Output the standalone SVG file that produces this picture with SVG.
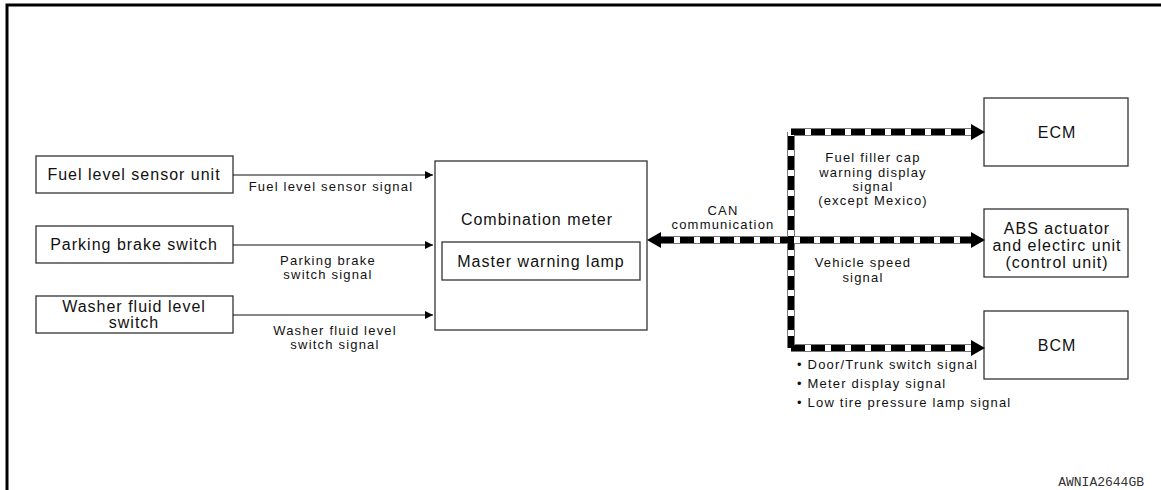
<svg xmlns="http://www.w3.org/2000/svg" width="1161" height="490" viewBox="0 0 1161 490">
<style>
.box{fill:#fff;stroke:#333;stroke-width:1.3}
.t{font-family:"Liberation Sans",Arial,sans-serif;font-size:16px;letter-spacing:1px;fill:#111;text-anchor:middle}
.s{font-family:"Liberation Sans",Arial,sans-serif;font-size:13px;letter-spacing:1.2px;fill:#111;text-anchor:middle}
.sl{font-family:"Liberation Sans",Arial,sans-serif;font-size:13px;letter-spacing:1.2px;fill:#111}
.w{stroke:#111;stroke-width:1.2;fill:none}
.busO{stroke:#777;stroke-width:8;fill:none}
.busW{stroke:#fff;stroke-width:6;fill:none}
.busB{stroke:#000;stroke-width:6;fill:none;stroke-dasharray:14 6}
</style>
<defs>
<marker id="ah" viewBox="0 0 10 10" refX="10" refY="5" markerWidth="10" markerHeight="8" markerUnits="userSpaceOnUse" orient="auto">
<path d="M0,0 L10,5 L0,10 Z" fill="#000"/>
</marker>
</defs>
<rect width="1161" height="490" fill="#fff"/>
<g id="frame">
<path d="M7,490 V5 H1161" fill="none" stroke="#000" stroke-width="3"/>
</g>
<g id="fuel-sensor">
<rect class="box" x="36" y="156" width="197" height="37"/>
<text class="t" x="134" y="180">Fuel level sensor unit</text>
</g>
<g id="parking-brake">
<rect class="box" x="36" y="226" width="197" height="37"/>
<text class="t" x="134" y="250">Parking brake switch</text>
</g>
<g id="washer">
<rect class="box" x="36" y="296" width="197" height="37"/>
<text class="t" x="134" y="312">Washer fluid level</text>
<text class="t" x="134" y="328">switch</text>
</g>
<g id="combination-meter">
<rect class="box" x="435" y="161" width="212" height="169"/>
<text class="t" x="537" y="225">Combination meter</text>
<rect class="box" x="442" y="242" width="198" height="38"/>
<text class="t" x="541" y="267">Master warning lamp</text>
</g>
<g id="ecm">
<rect class="box" x="984" y="98" width="144" height="68"/>
<text class="t" x="1057" y="138">ECM</text>
</g>
<g id="abs">
<rect class="box" x="984" y="209" width="144" height="68"/>
<text class="t" x="1057" y="234">ABS actuator</text>
<text class="t" x="1057" y="251">and electirc unit</text>
<text class="t" x="1057" y="268">(control unit)</text>
</g>
<g id="bcm">
<rect class="box" x="984" y="311" width="144" height="68"/>
<text class="t" x="1057" y="351">BCM</text>
</g>
<g id="connectors">
<line class="w" x1="233" y1="175" x2="433" y2="175" marker-end="url(#ah)"/>
<line class="w" x1="233" y1="245" x2="433" y2="245" marker-end="url(#ah)"/>
<line class="w" x1="233" y1="315" x2="433" y2="315" marker-end="url(#ah)"/>
<path class="busO" d="M660,240 H973 M791,132 V348 M791,132 H973 M791,348 H973"/>
<path class="busW" d="M660,240 H973 M791,132 V348 M791,132 H973 M791,348 H973"/>
<path class="busB" d="M791,132 H973"/>
<path class="busB" d="M791,136 V348"/>
<path class="busB" d="M791,348 H973"/>
<path class="busB" d="M660,240 H973"/>
<path d="M647,240 L661,232 L661,248 Z" fill="#000"/>
<path d="M985,132 L971,124 L971,140 Z" fill="#000"/>
<path d="M985,240 L971,232 L971,248 Z" fill="#000"/>
<path d="M985,348 L971,340 L971,356 Z" fill="#000"/>
</g>
<g id="labels">
<text class="s" x="331" y="191">Fuel level sensor signal</text>
<text class="s" x="328" y="265">Parking brake</text>
<text class="s" x="328" y="279">switch signal</text>
<text class="s" x="335" y="335">Washer fluid level</text>
<text class="s" x="335" y="349">switch signal</text>
<text class="s" x="723" y="215">CAN</text>
<text class="s" x="723" y="229">communication</text>
<text class="s" x="873" y="162">Fuel filler cap</text>
<text class="s" x="873" y="177">warning display</text>
<text class="s" x="873" y="191">signal</text>
<text class="s" x="873" y="205">(except Mexico)</text>
<text class="s" x="863" y="267">Vehicle speed</text>
<text class="s" x="863" y="282">signal</text>
<text class="sl" x="797" y="369">• Door/Trunk switch signal</text>
<text class="sl" x="797" y="388">• Meter display signal</text>
<text class="sl" x="797" y="407">• Low tire pressure lamp signal</text>
<text x="1144" y="486" font-family="'Liberation Mono',monospace" font-size="13" fill="#333" text-anchor="end">AWNIA2644GB</text>
</g>
</svg>
